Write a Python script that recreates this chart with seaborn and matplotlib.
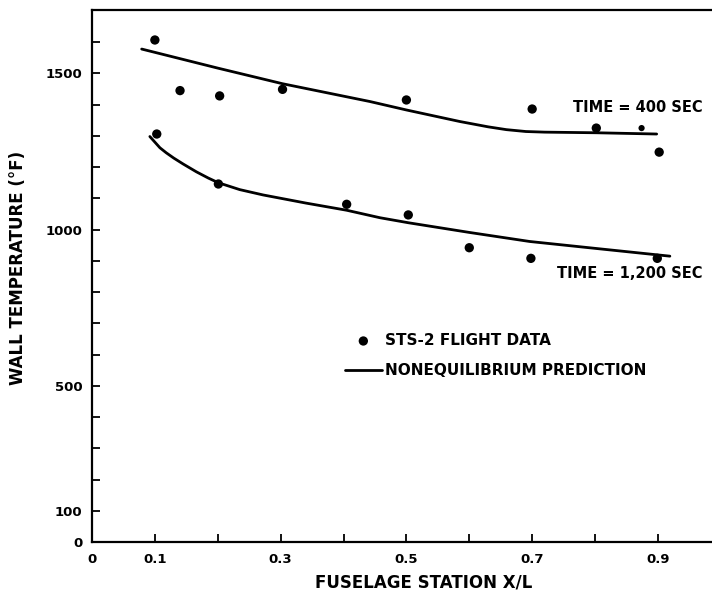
import numpy as np
import pandas as pd
import matplotlib
matplotlib.use("Agg")
import matplotlib.pyplot as plt
import seaborn as sns

# ---- data ----
# STS-2 flight data, TIME = 400 SEC
data400_x = [0.100, 0.140, 0.203, 0.303, 0.500, 0.700, 0.802, 0.902]
data400_y = [1607, 1445, 1428, 1449, 1415, 1386, 1325, 1248]
# faint small point near x=0.87
small_x = [0.874]
small_y = [1325]
# STS-2 flight data, TIME = 1,200 SEC
data1200_x = [0.103, 0.201, 0.405, 0.503, 0.600, 0.698, 0.899]
data1200_y = [1306, 1146, 1081, 1047, 942, 908, 908]

# Nonequilibrium prediction curves
pred400_x = [0.079, 0.200, 0.303, 0.442, 0.500, 0.585, 0.630, 0.659, 0.690,
             0.720, 0.802, 0.898]
pred400_y = [1578, 1517, 1467, 1410, 1383, 1346, 1329, 1320, 1314,
             1312, 1310, 1306]
pred1200_x = [0.092, 0.100, 0.108, 0.118, 0.130, 0.145, 0.166, 0.185, 0.201,
              0.235, 0.272, 0.340, 0.405, 0.458, 0.503, 0.600, 0.696, 0.800,
              0.919]
pred1200_y = [1298, 1280, 1262, 1246, 1229, 1210, 1185, 1165, 1150,
              1128, 1111, 1085, 1062, 1038, 1022, 991, 962, 940,
              915]

xtick_vals = [0.0, 0.1, 0.2, 0.3, 0.4, 0.5, 0.6, 0.7, 0.8, 0.9]
xtick_labels = ["0", "0.1", "", "0.3", "", "0.5", "", "0.7", "", "0.9"]
ytick_vals = list(range(0, 1700, 100))
ytick_labels = ["0", "100", "", "", "", "500", "", "", "", "",
                "1000", "", "", "", "", "1500", ""]

sns.set_theme(style="ticks")
plt.rcParams["font.family"] = ["DejaVu Sans"]
plt.rcParams["font.weight"] = "bold"
plt.rcParams["text.color"] = "black"
plt.rcParams["axes.labelcolor"] = "black"
plt.rcParams["xtick.color"] = "black"
plt.rcParams["ytick.color"] = "black"

fig = plt.figure(figsize=(7.12, 5.99), dpi=100)
ax = fig.add_axes([92 / 712, 57 / 599, 620 / 712, 532 / 599])

pts = pd.DataFrame({"x": data400_x + data1200_x,
                    "y": data400_y + data1200_y})
sns.scatterplot(data=pts, x="x", y="y", ax=ax, color="black", s=45,
                edgecolor="none", label="STS-2 FLIGHT DATA", zorder=3)
sns.scatterplot(x=small_x, y=small_y, ax=ax, color="black", s=20,
                edgecolor="none", zorder=3)

sns.lineplot(x=pred400_x, y=pred400_y, ax=ax, color="black", lw=2.0,
             sort=False, estimator=None, label="NONEQUILIBRIUM PREDICTION")
sns.lineplot(x=pred1200_x, y=pred1200_y, ax=ax, color="black", lw=2.0,
             sort=False, estimator=None)

ax.set_xlim(0, 0.986)
ax.set_ylim(0, 1703)
ax.set_xticks(xtick_vals)
ax.set_xticklabels(xtick_labels)
ax.set_yticks(ytick_vals)
ax.set_yticklabels(ytick_labels)
ax.tick_params(axis="both", direction="in", length=6, width=1.3,
               labelsize=9.5, colors="black", labelcolor="black")
ax.tick_params(axis="x", pad=8)
ax.tick_params(axis="y", pad=7)

for side in ["left", "bottom", "top"]:
    ax.spines[side].set_linewidth(1.6)
    ax.spines[side].set_color("black")
ax.spines["right"].set_visible(False)

ax.set_xlabel("FUSELAGE STATION X/L", fontsize=12, fontweight="bold",
              color="black")
ax.set_ylabel("WALL TEMPERATURE (°F)", fontsize=12, fontweight="bold",
              color="black")
ax.xaxis.set_label_coords(0.535, -0.060)
ax.yaxis.set_label_coords(-0.105, 0.515)

ax.text(0.765, 1390, "TIME = 400 SEC", fontsize=10.5, fontweight="bold",
        ha="left", va="center", color="black")
ax.text(0.739, 861, "TIME = 1,200 SEC", fontsize=10.5, fontweight="bold",
        ha="left", va="center", color="black")

handles, labels = ax.get_legend_handles_labels()
order = [labels.index("STS-2 FLIGHT DATA"), labels.index("NONEQUILIBRIUM PREDICTION")]
leg = ax.legend([handles[i] for i in order], [labels[i] for i in order],
                loc="upper left", bbox_to_anchor=(345 / 712, 1 - 333 / 599),
                bbox_transform=fig.transFigure, frameon=False, borderpad=0,
                borderaxespad=0, handlelength=2.4, handletextpad=0.2,
                labelspacing=1.0, fontsize=11, scatterpoints=1)
for t in leg.get_texts():
    t.set_fontweight("bold")
    t.set_color("black")

fig.savefig("out.png", dpi=100)
